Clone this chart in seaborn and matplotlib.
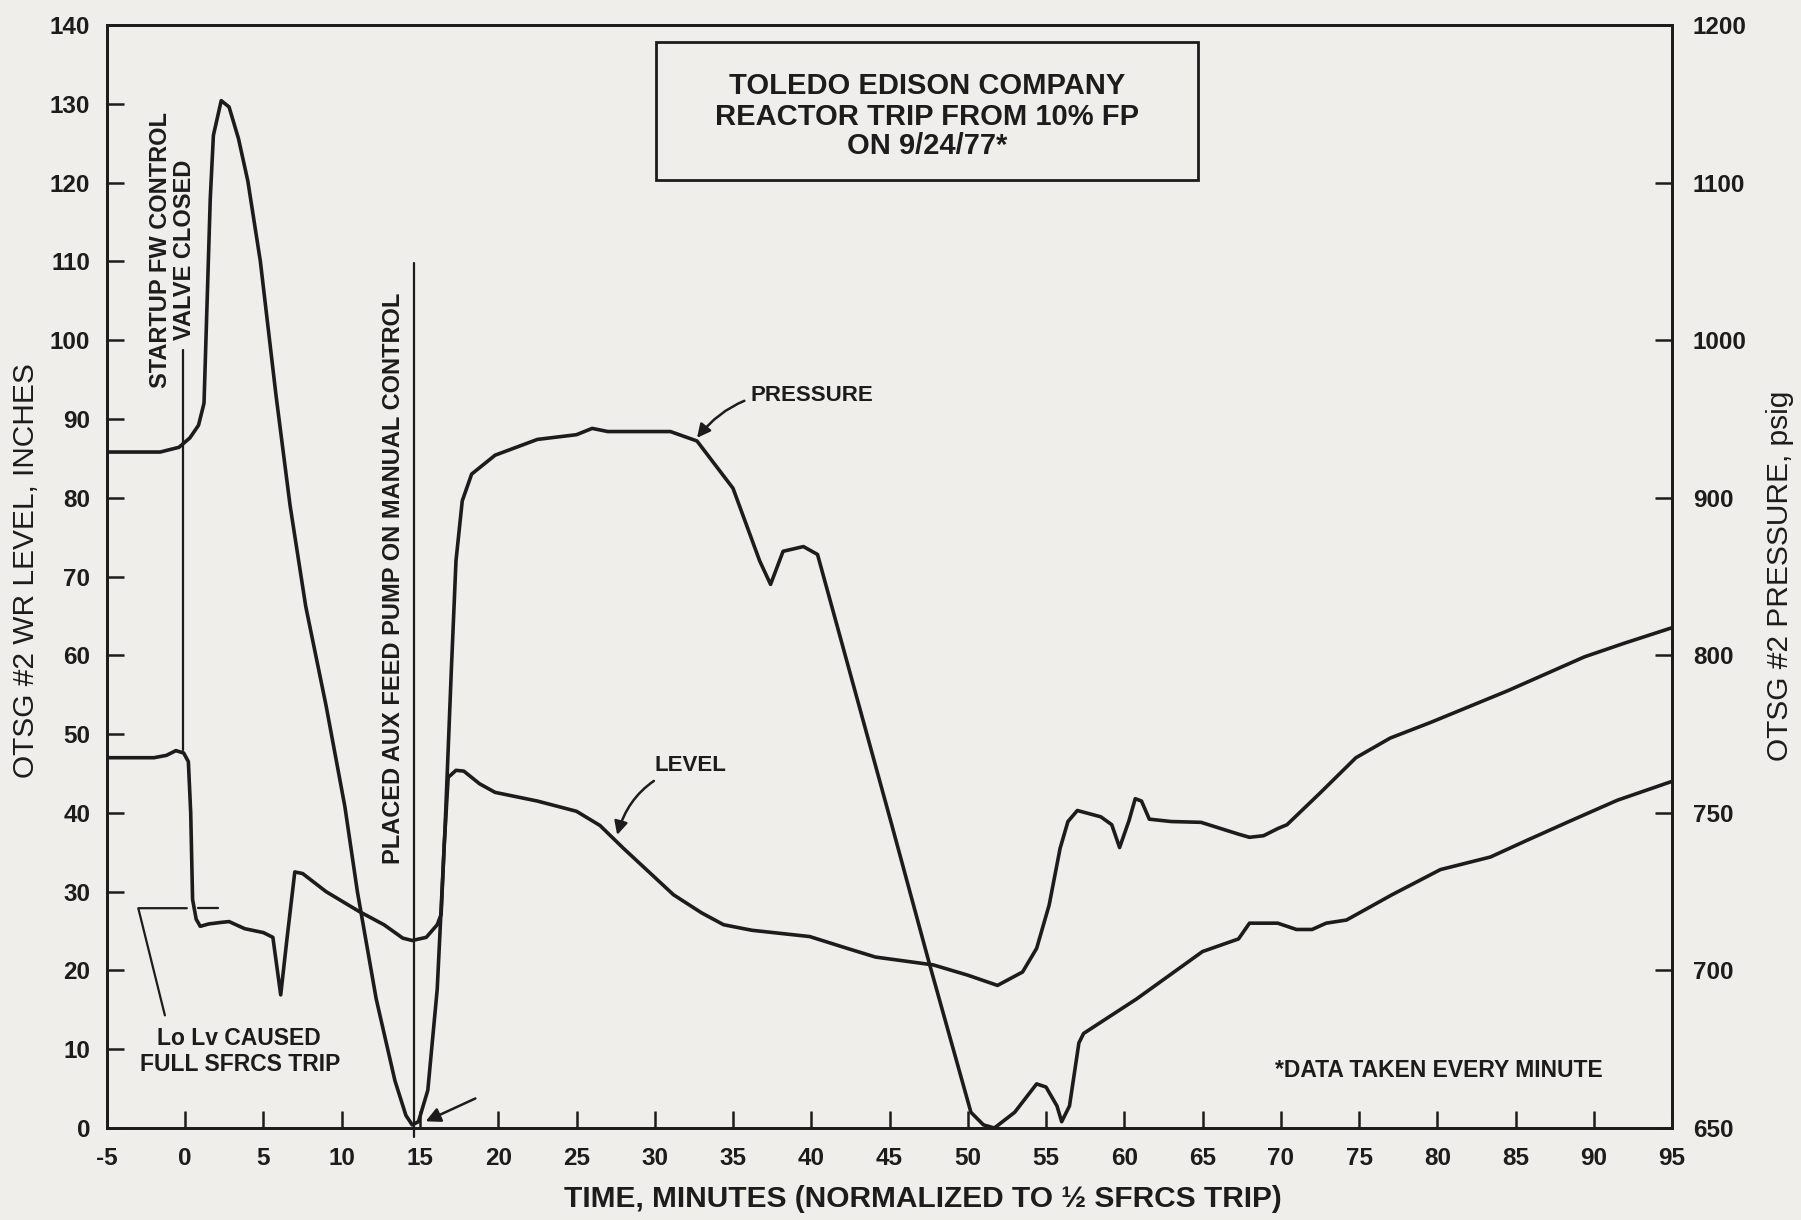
import numpy as np
import matplotlib
matplotlib.use("Agg")
import matplotlib.pyplot as plt
import matplotlib.patches as mpatches
import seaborn as sns

# OTSG #2 wide-range level, inches
level_time = [-5, -2, -1.2, -0.6, -0.1, 0.2, 0.35, 0.47, 0.7, 0.96, 1.5, 2.3, 2.8,
              3.8, 5.0, 5.6, 6.1, 6.5, 7.0, 7.5, 9.0, 11.1, 12.7, 13.9, 14.5, 15.4,
              16.1, 16.35, 16.55, 16.8, 17.3, 17.8, 18.8, 19.8, 22.5, 25, 26.5, 28,
              31.2, 33, 34.4, 36.2, 39.9, 42.3, 44.1, 47.8, 50, 51.9, 53.5, 54.4,
              55.2, 55.9, 56.4, 57.0, 58.5, 59.2, 59.7, 60.3, 60.7, 61.1, 61.6, 63,
              64.9, 67.3, 68.0, 68.9, 69.8, 70.4, 72.5, 74.8, 77, 79.6, 84.5, 89.4,
              91.9, 95]
level_inches = [47.0, 47.0, 47.3, 47.9, 47.6, 46.5, 40, 29, 26.5, 25.6, 25.9, 26.1, 26.2,
                25.3, 24.8, 24.2, 16.9, 24, 32.5, 32.3, 30, 27.5, 25.8, 24.1, 23.8, 24.2,
                25.8, 27.1, 36, 44.5, 45.4, 45.3, 43.7, 42.6, 41.5, 40.2, 38.4, 35.5,
                29.6, 27.3, 25.8, 25.1, 24.3, 22.8, 21.7, 20.7, 19.4, 18.1, 19.8, 22.8,
                28.3, 35.5, 38.9, 40.3, 39.5, 38.5, 35.6, 39, 41.8, 41.5, 39.2, 38.9,
                38.8, 37.3, 36.9, 37.1, 38.0, 38.5, 42.5, 47, 49.5, 51.5, 55.5, 59.8,
                61.5, 63.5]

# OTSG #2 pressure, psig
pressure_time = [-5, -3, -1.6, -0.4, 0.3, 0.85, 1.2, 1.4, 1.6, 1.8, 2.3, 2.8, 3.4, 4.0,
                 4.8, 5.8, 6.7, 7.7, 9.0, 10.2, 11.0, 12.2, 13.4, 14.1, 14.5, 14.9, 15.5,
                 16.1, 16.6, 17.0, 17.3, 17.7, 18.3, 19.8, 22.5, 25, 26, 27, 31, 32.7,
                 35.0, 36.7, 37.4, 38.2, 39.5, 40.4, 45.1, 47.5, 50.2, 51.0, 51.7, 53.0,
                 54.4, 55.0, 55.7, 56.0, 56.5, 57.1, 57.4, 60.8, 65, 67.3, 68.0, 69.8,
                 71.0, 72.0, 72.9, 74.2, 77.1, 80.2, 83.4, 85.6, 88.3, 91.5, 95]
pressure_psig = [929, 929, 929, 932, 938, 946, 960, 1025, 1090, 1130, 1152, 1148, 1128, 1101,
                 1050, 965, 895, 831, 784, 752, 725, 691, 665, 654, 651, 652, 662,
                 694, 745, 795, 860, 898, 915, 927, 937, 940, 944, 942, 942, 936,
                 906, 860, 845, 866, 869, 864, 747, 703, 655, 651, 650, 655,
                 664, 663, 657, 652, 657, 677, 680, 691, 706, 710, 715, 715,
                 713, 713, 715, 716, 724, 732, 736, 741, 747, 754, 760]

time_ticks = list(range(-5, 96, 5))
level_ticks = list(range(0, 141, 10))
pressure_ticks = [650, 700, 750, 800, 900, 1000, 1100, 1200]

title_lines = ["TOLEDO EDISON COMPANY", "REACTOR TRIP FROM 10% FP", "ON 9/24/77*"]

INK = "#1c1c1c"
PAPER = "#efeeea"


def psig_to_scale(p):
    # right axis is not uniform: 650-800 psig takes 60 in, 800-1200 takes 80 in
    p = np.asarray(p, dtype=float)
    return np.where(p <= 800, (p - 650) * 0.4, 60 + (p - 800) * 0.2)


def scale_to_psig(v):
    v = np.asarray(v, dtype=float)
    return np.where(v <= 60, 650 + v * 2.5, 800 + (v - 60) * 5.0)


sns.set_theme(style="ticks")
plt.rcParams["font.family"] = ["Liberation Sans", "DejaVu Sans"]
plt.rcParams["axes.unicode_minus"] = False
plt.rcParams["text.color"] = INK
plt.rcParams["axes.labelcolor"] = INK

fig, ax = plt.subplots(figsize=(18.01, 12.2), dpi=100)
fig.patch.set_facecolor(PAPER)
ax.set_facecolor(PAPER)
fig.subplots_adjust(left=0.0594, right=0.9284, bottom=0.0754, top=0.9795)

sns.lineplot(x=level_time, y=level_inches, ax=ax, color=INK, lw=2.6,
             estimator=None, sort=False)

ax2 = ax.twinx()
ax2.set_yscale("function", functions=(psig_to_scale, scale_to_psig))
sns.lineplot(x=pressure_time, y=pressure_psig, ax=ax2, color=INK, lw=2.6,
             estimator=None, sort=False)

ax.set_xlim(-5, 95)
ax.set_ylim(0, 140)
ax2.set_ylim(650, 1200)

ax.set_xticks(time_ticks)
ax.set_yticks(level_ticks)
ax2.set_yticks(pressure_ticks)
ax2.set_yticklabels([str(t) for t in pressure_ticks])

for a in (ax, ax2):
    for s in a.spines.values():
        s.set_linewidth(2.0)
        s.set_color(INK)
        s.set_visible(True)

ax.tick_params(axis="x", direction="in", length=12, width=1.8, pad=14,
               labelsize=17.5, colors=INK, top=False)
ax.tick_params(axis="y", direction="in", length=12, width=1.8, pad=12,
               labelsize=17.5, colors=INK, right=False)
ax2.tick_params(axis="y", direction="in", length=12, width=1.8, pad=15,
                labelsize=17.5, colors=INK)
for lab in ax.get_xticklabels() + ax.get_yticklabels() + ax2.get_yticklabels():
    lab.set_fontweight("bold")

ax.set_xlabel("TIME, MINUTES (NORMALIZED TO \u00bd SFRCS TRIP)", fontsize=21.5,
              fontweight="bold")
ax.xaxis.set_label_coords(0.521, -0.064)
ax.xaxis.label.set_va("center")

ax.set_ylabel("OTSG #2 WR LEVEL, INCHES", fontsize=21.5)
ax.yaxis.set_label_coords(-0.052, 0.505)
ax.yaxis.label.set_va("center")

ax2.set_ylabel("OTSG #2 PRESSURE, psig", fontsize=21.5)
ax2.yaxis.set_label_coords(1.069, 0.501)
ax2.yaxis.label.set_va("center")

# title box
ax.add_patch(mpatches.Rectangle((30.1, 120.3), 34.6, 17.5, fill=False, lw=2.0,
                                ec=INK, zorder=3))
for yy, line in zip([132.3, 128.3, 124.6], title_lines):
    ax.text(47.4, yy, line, ha="center", va="center", fontsize=21, fontweight="bold")

# event markers
ax.plot([-0.15, -0.15], [48.0, 98.7], color=INK, lw=1.6)
ax.text(-1.55, 111.5, "STARTUP FW CONTROL", rotation=90, ha="center", va="center",
        fontsize=17, fontweight="bold")
ax.text(-0.05, 111.5, "VALVE CLOSED", rotation=90, ha="center", va="center",
        fontsize=17, fontweight="bold")

ax.plot([14.6, 14.6], [-1.2, 109.8], color=INK, lw=1.6, clip_on=False)
ax.text(13.3, 69.8, "PLACED AUX FEED PUMP ON MANUAL CONTROL", rotation=90,
        ha="center", va="center", fontsize=17, fontweight="bold")

ax.plot([-1.3, -3.0, 0.1], [14.3, 27.9, 27.9], color=INK, lw=1.6)
ax.plot([0.8, 2.1], [27.9, 27.9], color=INK, lw=1.6)
ax.text(3.4, 11.4, "Lo Lv CAUSED", ha="center", va="center", fontsize=16.5,
        fontweight="bold")
ax.text(3.5, 8.1, "FULL SFRCS TRIP", ha="center", va="center", fontsize=16.5,
        fontweight="bold")

ax.annotate("", xy=(15.2, 0.7), xytext=(18.7, 3.9),
            arrowprops=dict(arrowstyle="-|>", color=INK, lw=1.8, mutation_scale=22))

ax.annotate("PRESSURE", xy=(32.7, 87.6), xytext=(36.1, 93.0), ha="left", va="center",
            fontsize=16, fontweight="bold",
            arrowprops=dict(arrowstyle="-|>", color=INK, lw=1.8, mutation_scale=20,
                            connectionstyle="arc3,rad=0.3", shrinkA=2, shrinkB=0))
ax.annotate("LEVEL", xy=(27.6, 37.2), xytext=(30.0, 46.0), ha="left", va="center",
            fontsize=16, fontweight="bold",
            arrowprops=dict(arrowstyle="-|>", color=INK, lw=1.8, mutation_scale=20,
                            connectionstyle="arc3,rad=0.3", shrinkA=2, shrinkB=0))

ax.text(80.1, 7.3, "*DATA TAKEN EVERY MINUTE", ha="center", va="center",
        fontsize=16.5, fontweight="bold")

fig.savefig("out.png", dpi=100, facecolor=PAPER)
